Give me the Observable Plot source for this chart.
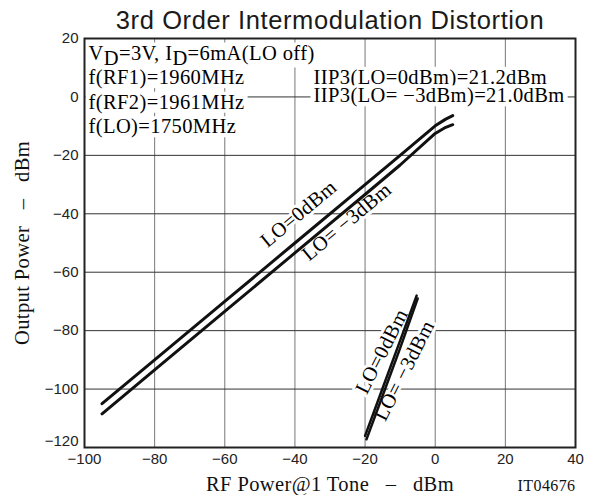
<!DOCTYPE html>
<html><head><meta charset="utf-8">
<script src="https://cdn.jsdelivr.net/npm/d3@7"></script>
<script src="https://cdn.jsdelivr.net/npm/@observablehq/plot@0.6"></script>
<style>body{margin:0;background:#fff}</style>
</head><body><div id="chart"></div>
<script>
const xTicks = [-100, -80, -60, -40, -20, 0, 20, 40];
const yTicks = [20, 0, -20, -40, -60, -80, -100, -120];
const rfLong = [-95, -80, -60, -40, -20, -10, 0, 3, 5];
const outLO0 = [-105, -90, -70, -50, -30, -20, -9.9, -7.6, -6.4];
const outLO3 = [-108.5, -93.4, -73.4, -53.4, -33.4, -23.3, -12.5, -10.4, -9.5];
const rfIM0 = [-20, -15, -10, -5.3];
const imLO0 = [-116, -99.7, -83.4, -68];
const rfIM3 = [-19.6, -15, -10, -5];
const imLO3 = [-117.2, -102.3, -86, -69];
const seriesLabels = ["LO=0dBm", "LO= \u22123dBm"];
const titleText = "3rd Order Intermodulation Distortion";
const condRows = ["VD=3V, ID=6mA(LO off)", "f(RF1)=1960MHz", "f(RF2)=1961MHz", "f(LO)=1750MHz"];
const iip3Rows = ["IIP3(LO=0dBm)=21.2dBm", "IIP3(LO= \u22123dBm)=21.0dBm"];
const xLabel = "RF Power@1 Tone\u00a0\u00a0\u00a0\u2013\u00a0\u00a0\u00a0dBm";
const yLabel = "Output Power\u00a0\u00a0\u00a0\u2013\u00a0\u00a0\u00a0dBm";
const codeLabel = "IT04676";

const SERIF = "Liberation Serif, Times New Roman, serif";
const SANS = "Liberation Sans, Arial, sans-serif";
const fmt = d => d < 0 ? "\u2212" + Math.abs(d) : String(d);

const longData = [
  ...rfLong.map((x, i) => ({x, y: outLO0[i], s: seriesLabels[0]})),
  ...rfLong.map((x, i) => ({x, y: outLO3[i], s: seriesLabels[1]}))
];
const imData = [
  ...rfIM0.map((x, i) => ({x, y: imLO0[i], s: seriesLabels[0]})),
  ...rfIM3.map((x, i) => ({x, y: imLO3[i], s: seriesLabels[1]}))
];

const serifOpts = {fontFamily: SERIF, fontSize: 20.5};
const lbl = {x: "x", y: "y", text: "s", textAnchor: "middle", lineAnchor: "middle", ...serifOpts,
  fill: "black", stroke: "white", strokeWidth: 6, strokeLinejoin: "round", paintOrder: "stroke"};
const block = {frameAnchor: "top-left", textAnchor: "start", lineAnchor: "bottom", ...serifOpts, fill: "black"};

const chart = Plot.plot({
  width: 591, height: 495,
  marginTop: 38, marginLeft: 84, marginRight: 16, marginBottom: 48,
  x: {domain: [-100, 40]},
  y: {domain: [-120, 20]},
  marks: [
    Plot.gridX(xTicks, {stroke: "#777", strokeOpacity: 1, strokeWidth: 1}),
    Plot.gridY(yTicks, {stroke: "#333", strokeOpacity: 1, strokeWidth: 1}),
    Plot.axisX({ticks: xTicks, tickSize: 0, tickPadding: 6, tickFormat: fmt, label: null, fontSize: 15, fontFamily: SANS, fill: "#222"}),
    Plot.axisY({ticks: yTicks.filter(d => d !== -120), tickSize: 0, tickPadding: 6, tickFormat: fmt, label: null, fontSize: 15, fontFamily: SANS, fill: "#222"}),
    Plot.axisY({ticks: yTicks.filter(d => d === -120), tickSize: 0, tickPadding: 6, tickFormat: fmt, label: null, fontSize: 15, fontFamily: SANS, fill: "#222", dy: -6}),
    // title & axis labels
    Plot.text([titleText], {frameAnchor: "top", textAnchor: "middle", dy: -10, lineAnchor: "bottom", fontFamily: SANS, fontSize: 25.5, fill: "#1a1a1a"}),
    Plot.text([xLabel], {frameAnchor: "bottom", textAnchor: "middle", dy: 43, lineAnchor: "bottom", ...serifOpts, fill: "#111"}),
    Plot.text([codeLabel], {frameAnchor: "bottom-right", textAnchor: "end", dy: 43, lineAnchor: "bottom", fontFamily: SERIF, fontSize: 16, fill: "#111"}),
    Plot.text([yLabel], {frameAnchor: "left", textAnchor: "middle", rotate: -90, dx: -62, lineAnchor: "middle", ...serifOpts, fill: "#111"}),
    // annotation blocks (one text per row)
    ...condRows.map((r, i) => Plot.text([r], {...block, dx: 4, dy: 21 + 24.6 * i})),
    ...iip3Rows.map((r, i) => Plot.text([r], {...block, dx: 229, dy: 45.3 + 18.5 * i})),
    // series labels
    Plot.text([longData[3]], {...lbl, rotate: -39.8, dx: 3.7, dy: -29.3}),
    Plot.text([longData[rfLong.length + 4]], {...lbl, rotate: -39.8, dx: -18.4, dy: 27.2}),
    Plot.text([imData[2]], {...lbl, rotate: -63, dx: -18.4, dy: 10.9}),
    Plot.text([imData[rfIM0.length + 2]], {...lbl, rotate: -63, dx: 4.1, dy: 22.5}),
    // lines
    Plot.line(longData, {x: "x", y: "y", z: "s", stroke: "#111", strokeWidth: 3}),
    Plot.line(imData, {x: "x", y: "y", z: "s", stroke: "#111", strokeWidth: 2.5}),
    Plot.frame({stroke: "#222", strokeWidth: 2})
  ]
});

const root = d3.select(chart);
// subscripts for V_D and I_D
root.selectAll("text").each(function () {
  if (this.childElementCount === 0 && this.textContent === condRows[0]) {
    const el = d3.select(this);
    el.text(null);
    const parts = [["V", 0], ["D", 5], ["=3V, I", -5], ["D", 5], ["=6mA(LO off)", -5]];
    for (const [t, dy] of parts) {
      const ts = el.append("tspan").text(t);
      if (dy) ts.attr("dy", dy);
    }
  }
});
// slightly wider letter spacing to match the original typesetting
root.selectAll("g").filter(function () { return this.getAttribute("font-family") === SERIF; })
  .attr("letter-spacing", "0.4px");
root.selectAll("text").filter(function () { return this.textContent === titleText; })
  .attr("letter-spacing", "0.6px");

document.getElementById("chart").appendChild(chart);

// white background boxes behind the annotation rows (they blank the grid, as in the original)
const blockRows = new Set([...condRows, ...iip3Rows]);
const rowTexts = root.selectAll("text").filter(function () { return blockRows.has(this.textContent); }).nodes();
for (const t of rowTexts) {
  const b = t.getBBox();
  const g = t.parentNode;
  const rect = document.createElementNS("http://www.w3.org/2000/svg", "rect");
  rect.setAttribute("x", b.x - 3);
  rect.setAttribute("y", b.y + 1);
  rect.setAttribute("width", b.width + 6);
  rect.setAttribute("height", b.height - 2);
  rect.setAttribute("fill", "white");
  rect.setAttribute("stroke", "none");
  if (t.getAttribute("transform")) rect.setAttribute("transform", t.getAttribute("transform"));
  g.insertBefore(rect, g.firstChild);
}
</script>
</body></html>
